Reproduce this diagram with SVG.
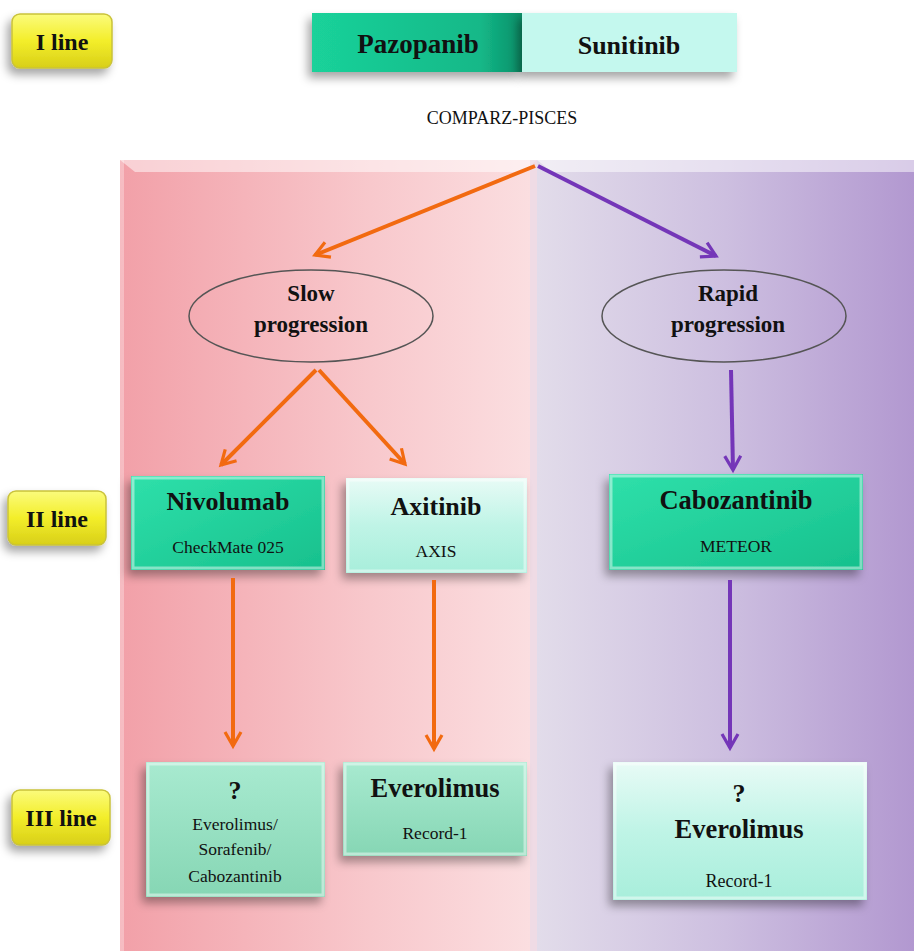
<svg xmlns="http://www.w3.org/2000/svg" width="914" height="951" viewBox="0 0 914 951">
<style>
.t{font-family:"Liberation Serif","Times New Roman",serif;fill:#111;text-anchor:middle}
.b{font-weight:bold}
.lbl{fill:url(#gYel);stroke:#c9c23a;stroke-width:1.5}
.ell{fill:none;stroke:#555;stroke-width:1.5}
.or{stroke:#f26a10;stroke-width:4;fill:none;marker-end:url(#mO)}
.pu{stroke:#7436b8;stroke-width:4;fill:none;marker-end:url(#mP)}
.bev{fill:none;stroke:#ffffff;stroke-opacity:0.45;stroke-width:3}
</style>
<defs>
<linearGradient id="gYel" x1="0" y1="0" x2="0" y2="1"><stop offset="0" stop-color="#fbfb7c"/><stop offset="0.5" stop-color="#f3ee2a"/><stop offset="1" stop-color="#d8cf18"/></linearGradient>
<linearGradient id="gPink" x1="0" y1="0" x2="1" y2="0"><stop offset="0" stop-color="#f2a0a8"/><stop offset="0.6" stop-color="#f8c8cc"/><stop offset="1" stop-color="#fbdfe1"/></linearGradient>
<linearGradient id="gPur" x1="0" y1="0" x2="1" y2="0"><stop offset="0" stop-color="#e2dcea"/><stop offset="0.5" stop-color="#cdbfe0"/><stop offset="1" stop-color="#b298d0"/></linearGradient>
<linearGradient id="gTeal" x1="0" y1="0" x2="1" y2="1"><stop offset="0" stop-color="#2fe0aa"/><stop offset="1" stop-color="#17c08d"/></linearGradient>
<linearGradient id="gPaz" x1="0" y1="0" x2="1" y2="0"><stop offset="0" stop-color="#1ad29a"/><stop offset="0.8" stop-color="#14b888"/><stop offset="1" stop-color="#0a8f68"/></linearGradient>
<linearGradient id="gLight" x1="0" y1="0" x2="0" y2="1"><stop offset="0" stop-color="#e8fbf6"/><stop offset="0.5" stop-color="#bff4e6"/><stop offset="1" stop-color="#a8eedb"/></linearGradient>
<linearGradient id="gMint" x1="0" y1="0" x2="0" y2="1"><stop offset="0" stop-color="#a8ead0"/><stop offset="1" stop-color="#86d6b4"/></linearGradient>
<filter id="sh" x="-20%" y="-20%" width="150%" height="160%"><feDropShadow dx="-4" dy="6" stdDeviation="5" flood-color="#000" flood-opacity="0.35"/></filter>
<marker id="mO" viewBox="0 0 10 10" refX="8" refY="5" markerWidth="5" markerHeight="5" orient="auto" markerUnits="strokeWidth"><path d="M1,1 L8,5 L1,9" fill="none" stroke="#f26a10" stroke-width="1.6"/></marker>
<marker id="mP" viewBox="0 0 10 10" refX="8" refY="5" markerWidth="5" markerHeight="5" orient="auto" markerUnits="strokeWidth"><path d="M1,1 L8,5 L1,9" fill="none" stroke="#7436b8" stroke-width="1.6"/></marker>
</defs>
<rect width="914" height="951" fill="#ffffff"/>
<g id="panels">
<rect x="120" y="160" width="417" height="791" fill="url(#gPink)"/>
<path d="M120,160 L537,160 L522,172 L135,172 Z" fill="#ffffff" fill-opacity="0.5"/>
<rect x="537" y="160" width="377" height="791" fill="url(#gPur)"/>
<path d="M537,160 L914,160 L914,172 L552,172 Z" fill="#ffffff" fill-opacity="0.5"/>
<rect x="120" y="160" width="4" height="791" fill="#ffffff" fill-opacity="0.3"/>
<rect x="530" y="160" width="7" height="791" fill="#e8d8e8" fill-opacity="0.6"/>
</g>
<g id="line1"><rect class="lbl" x="12" y="14" width="100" height="54" rx="8" filter="url(#sh)"/><text class="t b" x="62" y="50" font-size="24">I line</text></g>
<g id="line2"><rect class="lbl" x="8" y="491" width="98" height="54" rx="8" filter="url(#sh)"/><text class="t b" x="57" y="527" font-size="24">II line</text></g>
<g id="line3"><rect class="lbl" x="12" y="790" width="98" height="55" rx="8" filter="url(#sh)"/><text class="t b" x="61" y="826" font-size="24">III line</text></g>
<g id="pazopanib"><rect x="312" y="13" width="210" height="59" fill="url(#gPaz)" filter="url(#sh)"/><text class="t b" x="418" y="53" font-size="27">Pazopanib</text></g>
<g id="sunitinib"><rect x="522" y="13" width="215" height="59" fill="#c4f8ee" filter="url(#sh)"/><text class="t b" x="629" y="54" font-size="26">Sunitinib</text></g>
<rect x="386" y="95" width="115" height="6" fill="#ffffff"/>
<text class="t" x="502" y="124" font-size="18" fill="#333">COMPARZ-PISCES</text>
<g id="slow"><ellipse class="ell" cx="311" cy="316" rx="122" ry="46"/><text class="t b" x="311" y="301" font-size="23">Slow</text><text class="t b" x="311" y="332" font-size="23">progression</text></g>
<g id="rapid"><ellipse class="ell" cx="724" cy="316" rx="122" ry="46"/><text class="t b" x="728" y="301" font-size="23">Rapid</text><text class="t b" x="728" y="332" font-size="23">progression</text></g>
<g id="nivolumab"><rect x="131" y="476" width="194" height="94" fill="url(#gTeal)" filter="url(#sh)"/><rect class="bev" x="133" y="478" width="190" height="90"/><text class="t b" x="228" y="510" font-size="26">Nivolumab</text><text class="t" x="228" y="553" font-size="17.5" fill="#1a5a44">CheckMate 025</text></g>
<g id="axitinib"><rect x="346" y="478" width="181" height="95" fill="url(#gLight)" filter="url(#sh)"/><rect class="bev" x="348" y="480" width="177" height="91"/><text class="t b" x="436" y="515" font-size="26">Axitinib</text><text class="t" x="436" y="557" font-size="17.5" fill="#1a4a3a">AXIS</text></g>
<g id="cabozantinib"><rect x="609" y="474" width="254" height="96" fill="url(#gTeal)" filter="url(#sh)"/><rect class="bev" x="611" y="476" width="250" height="92"/><text class="t b" x="736" y="509" font-size="26.5">Cabozantinib</text><text class="t" x="736" y="552" font-size="17.5" fill="#1a5a44">METEOR</text></g>
<g id="q1"><rect x="146" y="762" width="179" height="135" fill="url(#gMint)" filter="url(#sh)"/><rect class="bev" x="148" y="764" width="175" height="131"/><text class="t b" x="235" y="799" font-size="26">?</text><text class="t" x="235" y="830" font-size="17.5">Everolimus/</text><text class="t" x="235" y="855" font-size="17.5">Sorafenib/</text><text class="t" x="235" y="882" font-size="17.5">Cabozantinib</text></g>
<g id="everolimus1"><rect x="343" y="762" width="184" height="94" fill="url(#gMint)" filter="url(#sh)"/><rect class="bev" x="345" y="764" width="180" height="90"/><text class="t b" x="435" y="797" font-size="26.5">Everolimus</text><text class="t" x="435" y="839" font-size="17.5">Record-1</text></g>
<g id="everolimus2"><rect x="613" y="762" width="254" height="138" fill="url(#gLight)" filter="url(#sh)"/><rect class="bev" x="615" y="764" width="250" height="134"/><text class="t b" x="739" y="802" font-size="26">?</text><text class="t b" x="739" y="838" font-size="26.5">Everolimus</text><text class="t" x="739" y="887" font-size="18" fill="#1a4a3a">Record-1</text></g>
<g id="connectors">
<line class="or" x1="535" y1="166" x2="315" y2="255"/>
<line class="pu" x1="538" y1="166" x2="716" y2="256"/>
<line class="or" x1="316" y1="370" x2="221" y2="465"/>
<line class="or" x1="319" y1="370" x2="405" y2="464"/>
<line class="pu" x1="731" y1="370" x2="733" y2="470"/>
<line class="or" x1="233" y1="578" x2="233" y2="746"/>
<line class="or" x1="434" y1="580" x2="434" y2="749"/>
<line class="pu" x1="730" y1="580" x2="730" y2="748"/>
</g>
</svg>
